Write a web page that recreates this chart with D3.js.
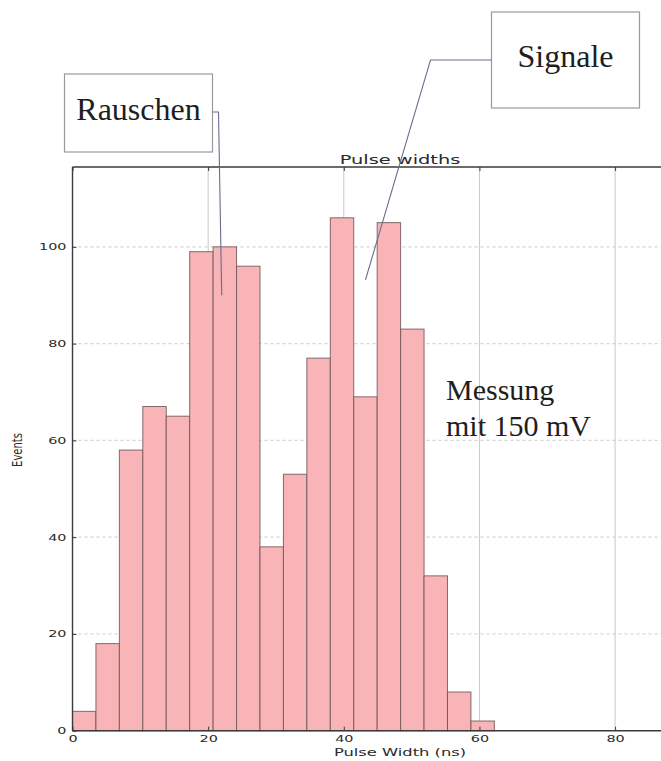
<!DOCTYPE html>
<html>
<head>
<meta charset="utf-8">
<script src="https://cdn.jsdelivr.net/npm/d3@7"></script>
<style>
  html, body { margin: 0; padding: 0; background: #ffffff; }
  svg { display: block; }
</style>
</head>
<body>
<svg id="chart" width="661" height="761"></svg>
<script>
// Histogram of measured pulse widths (counts per bin)
const counts = [4, 18, 58, 67, 65, 99, 100, 96, 38, 53, 77, 106, 69, 105, 83, 32, 8, 2];
const binRange = [0, 62.2];           // ns, lower edge of first bin / upper edge of last bin
const xDomain = [0, 96.5];
const yDomain = [0, 116.5];
const xTicks = [0, 20, 40, 60, 80];
const yTicks = [0, 20, 40, 60, 80, 100];

const titleText = "Pulse widths";
const xLabel = "Pulse Width (ns)";
const yLabel = "Events";

// Callouts: label, box (px), and the point in data units the leader line ends at
const callouts = [
  { label: "Rauschen", box: [64.5, 74, 148, 78], baseline: 119.5, anchor: [212.5, 112], knee: [218.5, 112], target: [22.0, 90] },
  { label: "Signale",  box: [491.5, 12, 148, 96], baseline: 66.5, anchor: [491.5, 60], knee: [430.5, 60], target: [43.2, 93.2] }
];
const noteLines = ["Messung", "mit 150 mV"];

const svg = d3.select("#chart");
const x = d3.scaleLinear().domain(xDomain).range([72.5, 727]);
const y = d3.scaleLinear().domain(yDomain).range([730.7, 167]);

const binW = (binRange[1] - binRange[0]) / counts.length;
const bins = counts.map((c, i) => ({ x0: binRange[0] + i * binW, x1: binRange[0] + (i + 1) * binW, n: c }));

// horizontal stretch of sans text
function stretch(sel, k) {
  sel.each(function () {
    const w = this.getComputedTextLength();
    this.setAttribute("textLength", w * k);
    this.setAttribute("lengthAdjust", "spacingAndGlyphs");
  });
}

const plot = svg.append("g");

// grid
plot.append("g").selectAll("line.vg").data(xTicks.filter(d => d > 0)).join("line")
  .attr("x1", d => x(d)).attr("x2", d => x(d))
  .attr("y1", y(yDomain[1])).attr("y2", y(0))
  .attr("stroke", "#c9c9c9").attr("stroke-width", 1);
plot.append("g").selectAll("line.hg").data(yTicks.filter(d => d > 0)).join("line")
  .attr("x1", x(0)).attr("x2", x(xDomain[1]))
  .attr("y1", d => y(d)).attr("y2", d => y(d))
  .attr("stroke", "#d4d4d4").attr("stroke-width", 1.2).attr("stroke-dasharray", "3,3");

// bars
plot.append("g").selectAll("rect").data(bins).join("rect")
  .attr("x", d => x(d.x0))
  .attr("y", d => y(d.n))
  .attr("width", d => x(d.x1) - x(d.x0))
  .attr("height", d => y(0) - y(d.n))
  .attr("fill", "#f8b4b6")
  .attr("stroke", "#6e5557")
  .attr("stroke-opacity", 0.85)
  .attr("stroke-width", 1);

// frame
const frame = plot.append("g").attr("fill", "none").attr("stroke", "#3a3a3a").attr("stroke-width", 1.4);
frame.append("line").attr("x1", x(0)).attr("x2", x(0)).attr("y1", y(yDomain[1])).attr("y2", y(0));
frame.append("line").attr("x1", x(0)).attr("x2", x(xDomain[1])).attr("y1", y(yDomain[1])).attr("y2", y(yDomain[1]));
frame.append("line").attr("x1", x(0)).attr("x2", x(xDomain[1])).attr("y1", y(0)).attr("y2", y(0));

// axes
const fontSans = "'DejaVu Sans', sans-serif";
const gx = plot.append("g").attr("transform", `translate(0,${y(0)})`)
  .call(d3.axisBottom(x).tickValues(xTicks).tickSizeInner(-4).tickSizeOuter(0).tickPadding(5));
const gy = plot.append("g").attr("transform", `translate(${x(0)},0)`)
  .call(d3.axisLeft(y).tickValues(yTicks).tickSizeInner(-4).tickSizeOuter(0).tickPadding(6));
const gt = plot.append("g").attr("transform", `translate(0,${y(yDomain[1])})`)
  .call(d3.axisTop(x).tickValues(xTicks).tickSizeInner(-4).tickSizeOuter(0).tickFormat(""));
[gx, gy, gt].forEach(g => {
  g.select(".domain").remove();
  g.selectAll(".tick line").attr("stroke", "#3a3a3a");
  g.selectAll("text").attr("fill", "#2a2a2a").style("font-family", fontSans).style("font-size", "9px");
});
stretch(gx.selectAll("text"), 1.6);
stretch(gy.selectAll("text"), 1.6);

// title and axis labels
const title = svg.append("text")
  .attr("x", 400).attr("y", 163.5).attr("text-anchor", "middle")
  .attr("fill", "#2a2a2a").style("font-family", fontSans).style("font-size", "12.5px")
  .text(titleText);
stretch(title, 1.55);

const xl = svg.append("text")
  .attr("x", 400).attr("y", 756).attr("text-anchor", "middle")
  .attr("fill", "#2a2a2a").style("font-family", fontSans).style("font-size", "10px")
  .text(xLabel);
stretch(xl, 1.63);

svg.append("text")
  .attr("transform", "translate(22,450) scale(1.45,1) rotate(-90)")
  .attr("text-anchor", "middle")
  .attr("fill", "#2a2a2a").style("font-family", fontSans).style("font-size", "10px")
  .text(yLabel);

// callouts
const fontSerif = "'Liberation Serif', 'DejaVu Serif', serif";
const cg = svg.append("g");
callouts.forEach(c => {
  const [bx, by, bw, bh] = c.box;
  cg.append("rect").attr("x", bx).attr("y", by).attr("width", bw).attr("height", bh)
    .attr("fill", "#ffffff").attr("stroke", "#9a9a9a").attr("stroke-width", 1.2);
  cg.append("text").attr("x", bx + bw / 2).attr("y", c.baseline).attr("text-anchor", "middle")
    .attr("fill", "#1e1e1e").style("font-family", fontSerif).style("font-size", "32px")
    .text(c.label);
  cg.append("polyline")
    .attr("points", [c.anchor, c.knee, [x(c.target[0]), y(c.target[1])]].map(p => p.join(",")).join(" "))
    .attr("fill", "none").attr("stroke", "#6c6c90").attr("stroke-width", 1.1);
});

// measurement note
const note = svg.append("text").attr("fill", "#1e1e1e")
  .style("font-family", fontSerif).style("font-size", "30px");
noteLines.forEach((t, i) => {
  note.append("tspan").attr("x", 446).attr("y", 399.5 + i * 36).text(t);
});
</script>
</body>
</html>
